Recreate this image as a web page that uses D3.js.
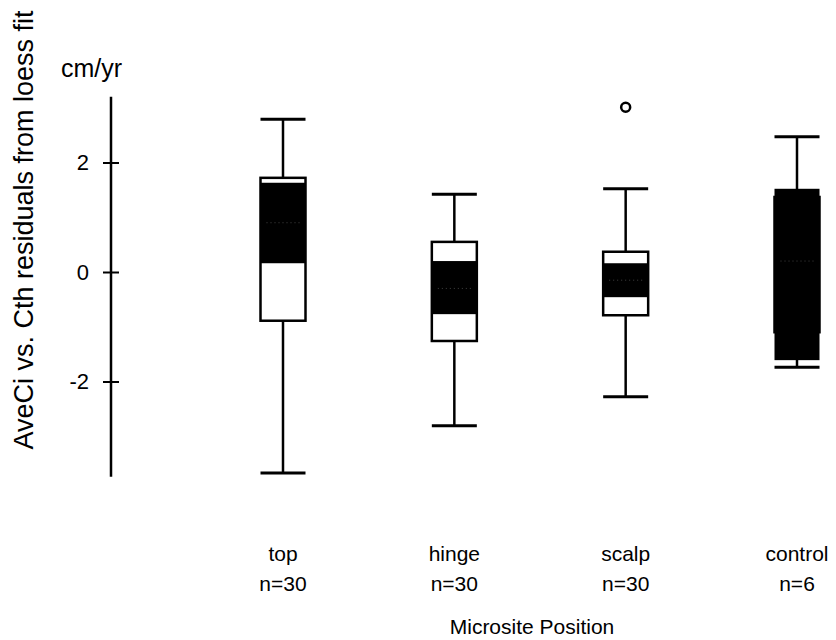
<!DOCTYPE html>
<html>
<head>
<meta charset="utf-8">
<script src="https://cdn.jsdelivr.net/npm/d3@7"></script>
<style>
  html, body { margin: 0; padding: 0; background: #fff; }
  svg { display: block; font-family: "Liberation Sans", Arial, Helvetica, sans-serif; }
</style>
</head>
<body>
<svg id="chart" width="836" height="640"></svg>
<script>
// Microsite groups and their sample sizes
const categories = ["top", "hinge", "scalp", "control"];
const counts = [30, 30, 30, 6];

// Box-plot summaries (cm/yr)
const whiskerLow  = [-3.67, -2.81, -2.28, -1.74];
const quartile1   = [-0.89, -1.26, -0.79, -1.10];
const medians     = [ 0.90, -0.30, -0.15,  0.20];
const quartile3   = [ 1.72,  0.55,  0.37,  1.37];
const whiskerHigh = [ 2.79,  1.42,  1.52,  2.47];
// Median confidence interval (drawn as the solid band)
const notchLow    = [ 0.16, -0.77, -0.46, -1.61];
const notchHigh   = [ 1.63,  0.20,  0.16,  1.52];
// Points beyond the whiskers
const outliers = [[], [], [3.01], []];

const yTicks = [-2, 0, 2];
const yDomain = [-3.74, 3.2];

const svg = d3.select("#chart");
const labelSize = 21;
const bigSize = 27;

const x = d3.scalePoint().domain(categories).range([283, 797]);
const y = d3.scaleLinear().domain([-2, 2]).range([381.5, 162.5]);
const boxW = 45;

// Y axis: ticks cross the axis line
const axis = d3.axisLeft(y).tickValues(yTicks).tickSize(8).tickPadding(14)
  .tickFormat(d => String(d));
const gAxis = svg.append("g").attr("transform", "translate(111,0)");
gAxis.call(axis);
gAxis.select(".domain").remove();
gAxis.append("line")
  .attr("x1", 0).attr("x2", 0)
  .attr("y1", y(yDomain[1])).attr("y2", y(yDomain[0]))
  .attr("stroke", "#000").attr("stroke-width", 2.5);
gAxis.selectAll(".tick line").attr("x1", -8).attr("x2", 8)
  .attr("stroke", "#000").attr("stroke-width", 2);
gAxis.selectAll(".tick text")
  .attr("font-size", 22).attr("fill", "#000")
  .style("font-family", "'Liberation Sans', Arial, sans-serif");

// Units and axis titles
svg.append("text").attr("x", 61).attr("y", 77)
  .attr("font-size", 25).text("cm/yr");
svg.append("text")
  .attr("transform", "translate(33,230) rotate(-90)")
  .attr("text-anchor", "middle").attr("font-size", bigSize)
  .text("AveCi vs. Cth residuals from loess fit");
svg.append("text").attr("x", 532).attr("y", 634)
  .attr("text-anchor", "middle").attr("font-size", labelSize)
  .text("Microsite Position");

// Category labels with counts
const lab = svg.append("g").selectAll("g").data(categories).join("g")
  .attr("transform", d => `translate(${x(d)},0)`);
lab.append("text").attr("y", 561).attr("text-anchor", "middle")
  .attr("font-size", labelSize).text(d => d);
lab.append("text").attr("y", 591).attr("text-anchor", "middle")
  .attr("font-size", labelSize).text((d, i) => "n=" + counts[i]);

// Boxes
const boxes = svg.append("g").selectAll("g").data(categories).join("g")
  .attr("transform", d => `translate(${x(d)},0)`);

boxes.each(function(d, i) {
  const g = d3.select(this);
  const sw = 2.5;
  // whiskers
  g.append("line").attr("x1", 0).attr("x2", 0)
    .attr("y1", y(quartile3[i])).attr("y2", y(whiskerHigh[i]))
    .attr("stroke", "#000").attr("stroke-width", sw);
  g.append("line").attr("x1", 0).attr("x2", 0)
    .attr("y1", y(quartile1[i])).attr("y2", y(whiskerLow[i]))
    .attr("stroke", "#000").attr("stroke-width", sw);
  // caps
  [whiskerHigh[i], whiskerLow[i]].forEach(v => {
    g.append("line").attr("x1", -boxW / 2).attr("x2", boxW / 2)
      .attr("y1", y(v)).attr("y2", y(v))
      .attr("stroke", "#000").attr("stroke-width", sw + 0.5);
  });
  // box body
  g.append("rect").attr("x", -boxW / 2).attr("width", boxW)
    .attr("y", y(quartile3[i])).attr("height", y(quartile1[i]) - y(quartile3[i]))
    .attr("fill", "#fff");
  // median confidence band
  g.append("rect").attr("x", -boxW / 2).attr("width", boxW)
    .attr("y", y(notchHigh[i])).attr("height", y(notchLow[i]) - y(notchHigh[i]))
    .attr("fill", "#000");
  // median line
  g.append("line").attr("x1", -boxW / 2 + 6).attr("x2", boxW / 2 - 6)
    .attr("y1", y(medians[i])).attr("y2", y(medians[i]))
    .attr("stroke", "#fff").attr("stroke-opacity", 0.25)
    .attr("stroke-width", 1).attr("stroke-dasharray", "1,3");
  // box outline
  g.append("rect").attr("x", -boxW / 2).attr("width", boxW)
    .attr("y", y(quartile3[i])).attr("height", y(quartile1[i]) - y(quartile3[i]))
    .attr("fill", "none").attr("stroke", "#000").attr("stroke-width", sw);
  // outliers
  g.selectAll("circle.out").data(outliers[i]).join("circle")
    .attr("class", "out").attr("cx", 0).attr("cy", v => y(v)).attr("r", 4.5)
    .attr("fill", "none").attr("stroke", "#000").attr("stroke-width", 2.5);
});
</script>
</body>
</html>
